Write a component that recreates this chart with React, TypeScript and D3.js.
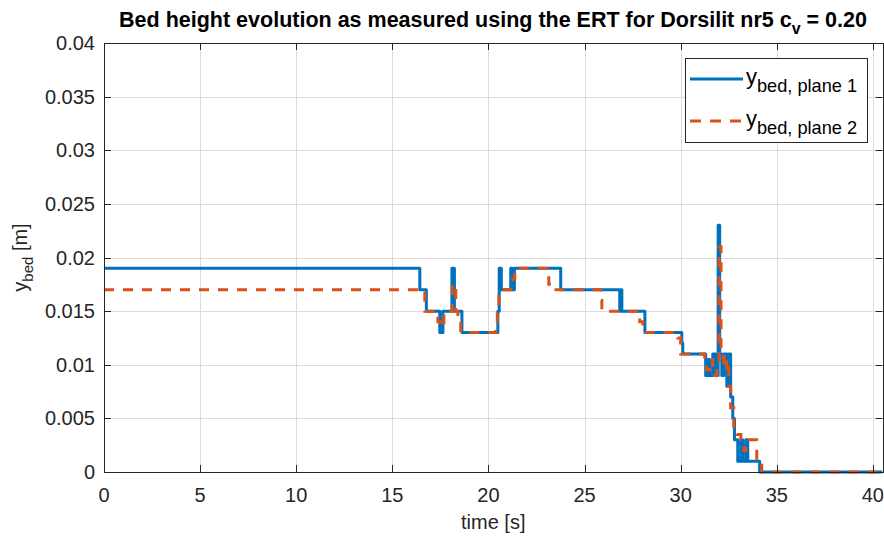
import React, { useEffect, useRef } from "react";
import * as d3 from "d3";

// Bed height step series (time in s, height in m), value holds from each time until the next
const plane1Times = [
  0, 16.43, 16.77, 17.47, 17.63, 18.1, 18.23, 18.62, 20.49, 20.56, 20.67, 21.16, 21.24, 21.35,
  23.76, 26.83, 26.88, 26.94, 28.14, 30.06, 30.11, 31.3, 31.41, 31.51, 31.67, 31.82, 31.95,
  32.03, 32.14, 32.24, 32.4, 32.5, 32.6, 32.71, 32.8, 32.97, 33.13, 33.23, 33.39, 33.49, 34.11, 40.5,
];
const plane1Values = [
  0.019, 0.017, 0.015, 0.013, 0.015, 0.019, 0.015, 0.013, 0.015, 0.019, 0.017, 0.019, 0.017, 0.019,
  0.017, 0.015, 0.017, 0.015, 0.013, 0.012, 0.011, 0.009, 0.0105, 0.009, 0.011, 0.009, 0.023,
  0.011, 0.009, 0.011, 0.008, 0.011, 0.007, 0.005, 0.003, 0.001, 0.003, 0.001, 0.003, 0.001, 0, 0,
];

const plane2Times = [
  0, 16.69, 17.37, 17.53, 17.68, 18.12, 18.3, 18.41, 18.56, 20.38, 20.46, 20.54, 21.27, 21.37,
  23.04, 23.14, 23.25, 25.84, 25.9, 27.87, 28.03, 29.85, 30.0, 31.25, 31.35, 31.51, 31.67, 31.88,
  32.0, 32.1, 32.24, 32.4, 32.5, 32.6, 32.76, 32.92, 33.13, 33.28, 33.39, 33.96, 34.22, 40.5,
];
const plane2Values = [
  0.017, 0.015, 0.014, 0.0135, 0.015, 0.0175, 0.015, 0.014, 0.013, 0.014, 0.015, 0.017, 0.018, 0.019,
  0.0185, 0.0175, 0.017, 0.016, 0.015, 0.014, 0.013, 0.0125, 0.011, 0.01, 0.0095, 0.0105, 0.009, 0.01,
  0.021, 0.011, 0.0095, 0.0105, 0.008, 0.006, 0.004, 0.0035, 0.003, 0.002, 0.003, 0.001, 0, 0,
];

const xTicks = [0, 5, 10, 15, 20, 25, 30, 35, 40];
const yTicks = [0, 0.005, 0.01, 0.015, 0.02, 0.025, 0.03, 0.035, 0.04];
const yTickLabels = ["0", "0.005", "0.01", "0.015", "0.02", "0.025", "0.03", "0.035", "0.04"];

const W = 884;
const H = 541;
const margin = { left: 104, right: 1.5, top: 43, bottom: 69 };
const FONT = "'Liberation Sans', Arial, Helvetica, sans-serif";
const AXIS = "#262626";
const BLUE = "#0072BD";
const ORANGE = "#D95319";

export default function App() {
  const ref = useRef<SVGSVGElement>(null);

  useEffect(() => {
    const svg = d3.select(ref.current);
    svg.selectAll("*").remove();

    const x0 = margin.left;
    const x1 = W - margin.right;
    const y0 = H - margin.bottom;
    const y1 = margin.top;

    const x = d3.scaleLinear().domain([0, 40.5]).range([x0, x1]);
    const y = d3.scaleLinear().domain([0, 0.04]).range([y0, y1]);

    svg.append("rect").attr("width", W).attr("height", H).attr("fill", "#fff");

    // grid
    const grid = svg.append("g").attr("stroke", "#dcdcdc").attr("stroke-width", 1);
    xTicks.forEach((t) => {
      const px = Math.round(x(t)) + 0.5;
      grid.append("line").attr("x1", px).attr("x2", px).attr("y1", y1).attr("y2", y0);
    });
    yTicks.forEach((t) => {
      const py = Math.round(y(t)) + 0.5;
      grid.append("line").attr("x1", x0).attr("x2", x1).attr("y1", py).attr("y2", py);
    });

    svg
      .append("clipPath")
      .attr("id", "plotClip")
      .append("rect")
      .attr("x", x0)
      .attr("y", y1 - 5)
      .attr("width", x1 - x0)
      .attr("height", y0 - y1 + 10);

    const line = d3
      .line<[number, number]>()
      .x((d) => x(d[0]))
      .y((d) => y(d[1]))
      .curve(d3.curveStepAfter);

    const s1: [number, number][] = plane1Times.map((t, i) => [t, plane1Values[i]]);
    const s2: [number, number][] = plane2Times.map((t, i) => [t, plane2Values[i]]);

    const plot = svg.append("g").attr("clip-path", "url(#plotClip)");
    plot
      .append("path")
      .attr("d", line(s1))
      .attr("fill", "none")
      .attr("stroke", BLUE)
      .attr("stroke-width", 3)
      .attr("stroke-linejoin", "round");
    plot
      .append("path")
      .attr("d", line(s2))
      .attr("fill", "none")
      .attr("stroke", ORANGE)
      .attr("stroke-width", 3)
      .attr("stroke-dasharray", "10,9");

    // axes box and ticks
    const ax = svg.append("g").attr("stroke", AXIS).attr("stroke-width", 1).attr("fill", "none");
    ax.append("rect")
      .attr("x", Math.round(x0) + 0.5)
      .attr("y", Math.round(y1) + 0.5)
      .attr("width", Math.round(x1) - Math.round(x0))
      .attr("height", Math.round(y0) - Math.round(y1));
    const tl = 7;
    xTicks.forEach((t) => {
      const px = Math.round(x(t)) + 0.5;
      ax.append("line").attr("x1", px).attr("x2", px).attr("y1", y0).attr("y2", y0 - tl);
      ax.append("line").attr("x1", px).attr("x2", px).attr("y1", y1).attr("y2", y1 + tl);
    });
    yTicks.forEach((t) => {
      const py = Math.round(y(t)) + 0.5;
      ax.append("line").attr("x1", x0).attr("x2", x0 + tl).attr("y1", py).attr("y2", py);
      ax.append("line").attr("x1", x1).attr("x2", x1 - tl).attr("y1", py).attr("y2", py);
    });

    const txt = svg.append("g").attr("font-family", FONT).attr("fill", AXIS);
    xTicks.forEach((t) => {
      txt
        .append("text")
        .attr("x", x(t))
        .attr("y", y0 + 30)
        .attr("text-anchor", "middle")
        .attr("font-size", 20)
        .text(String(t));
    });
    yTicks.forEach((t, i) => {
      txt
        .append("text")
        .attr("x", x0 - 9)
        .attr("y", y(t) + 7)
        .attr("text-anchor", "end")
        .attr("font-size", 20)
        .text(yTickLabels[i]);
    });

    // x label
    txt
      .append("text")
      .attr("x", (x0 + x1) / 2)
      .attr("y", 529)
      .attr("text-anchor", "middle")
      .attr("font-size", 20)
      .text("time [s]");

    // y label
    const yl = txt
      .append("text")
      .attr("transform", `translate(27, ${(y0 + y1) / 2}) rotate(-90)`)
      .attr("text-anchor", "middle")
      .attr("font-size", 20);
    yl.append("tspan").text("y");
    yl.append("tspan").attr("dy", 6).attr("font-size", 15).text("bed");
    yl.append("tspan").attr("dy", -6).text(" [m]");

    // title
    const title = svg
      .append("text")
      .attr("x", 493)
      .attr("y", 27)
      .attr("text-anchor", "middle")
      .attr("font-family", FONT)
      .attr("font-weight", "bold")
      .attr("font-size", 21.5)
      .attr("fill", "#000");
    title.append("tspan").text("Bed height evolution as measured using the ERT for Dorsilit nr5 c");
    title.append("tspan").attr("dy", 7).attr("font-size", 16).text("v");
    title.append("tspan").attr("dy", -7).text(" = 0.20");

    // legend
    const lg = svg.append("g");
    lg.append("rect")
      .attr("x", 685.5)
      .attr("y", 58.5)
      .attr("width", 182)
      .attr("height", 84)
      .attr("fill", "#fff")
      .attr("stroke", AXIS)
      .attr("stroke-width", 1);
    const entries = [
      { label: "bed, plane 1", color: BLUE, dash: null as string | null, cy: 79 },
      { label: "bed, plane 2", color: ORANGE, dash: "11,9", cy: 121 },
    ];
    entries.forEach((e) => {
      const l = lg
        .append("line")
        .attr("x1", 690)
        .attr("x2", 743)
        .attr("y1", e.cy)
        .attr("y2", e.cy)
        .attr("stroke", e.color)
        .attr("stroke-width", 3);
      if (e.dash) l.attr("stroke-dasharray", e.dash);
      const t = lg
        .append("text")
        .attr("x", 746)
        .attr("y", e.cy + 5)
        .attr("font-family", FONT)
        .attr("font-size", 22)
        .attr("fill", "#000");
      t.append("tspan").text("y");
      t.append("tspan").attr("dy", 8).attr("font-size", 18.2).text(e.label);
    });
  }, []);

  return (
    <div style={{ position: "fixed", left: 0, top: 0 }}>
      <svg ref={ref} width={W} height={H} />
    </div>
  );
}
